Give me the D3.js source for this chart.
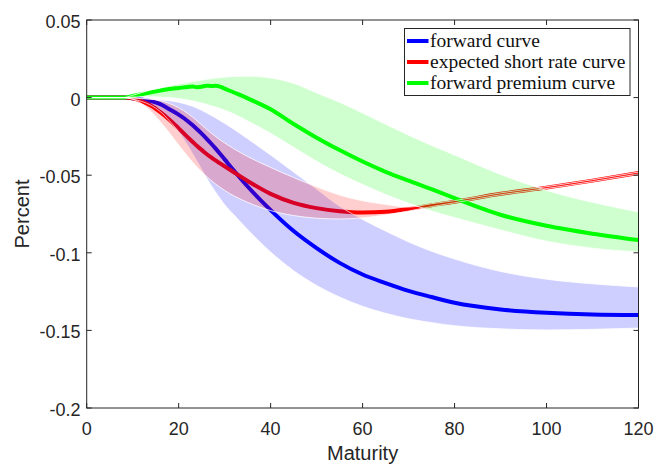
<!DOCTYPE html>
<html>

<head>
  <meta charset="utf-8">
  <title>Forward curve decomposition</title>
  <script src="https://cdn.jsdelivr.net/npm/d3@7"></script>
  <style>
    body { margin: 0; background: #fff; }
    svg { display: block; }
  </style>
</head>

<body>
  <div id="chart"></div>

  <script>
    // maturity grid (months)
    const maturity = [0, 4, 8, 10, 12, 14, 16, 18, 20, 22, 23, 24, 25, 26, 27, 28, 29, 30, 32, 35, 40, 45, 50, 55, 60, 65, 70, 75, 80, 90, 100, 110, 120];

    // forward curve + band
    const forward = [0, 0, 0, -0.0005, -0.0012, -0.0023, -0.0042, -0.0075, -0.0110, -0.0152, -0.0177, -0.0204, -0.0232, -0.0262, -0.0294, -0.0327, -0.0362, -0.0398, -0.0470, -0.0573, -0.0725, -0.0860, -0.0970, -0.1065, -0.1140, -0.1195, -0.1245, -0.1285, -0.1322, -0.1365, -0.1387, -0.1398, -0.1401];
    const forwardHi = [0, 0, 0, -0.0003, -0.0007, -0.0010, -0.0014, -0.0020, -0.0030, -0.0046, -0.0056, -0.0068, -0.0082, -0.0097, -0.0113, -0.0130, -0.0148, -0.0166, -0.0204, -0.0265, -0.0370, -0.0480, -0.0590, -0.0700, -0.0785, -0.0860, -0.0930, -0.0990, -0.1040, -0.1120, -0.1170, -0.1200, -0.1220];
    const forwardLo = [0, 0, 0, -0.0010, -0.0025, -0.0050, -0.0090, -0.0150, -0.0220, -0.0310, -0.0360, -0.0410, -0.0463, -0.0515, -0.0563, -0.0608, -0.0650, -0.0690, -0.0755, -0.0850, -0.0995, -0.1115, -0.1210, -0.1285, -0.1345, -0.1390, -0.1425, -0.1450, -0.1470, -0.1490, -0.1497, -0.1493, -0.1485];

    // expected short rate curve + band
    const shortRate = [0, 0, 0, -0.0005, -0.0025, -0.0052, -0.0093, -0.0142, -0.0198, -0.0256, -0.0284, -0.0312, -0.0337, -0.0362, -0.0384, -0.0405, -0.0424, -0.0443, -0.0481, -0.0537, -0.0620, -0.0678, -0.0712, -0.0732, -0.0740, -0.0736, -0.0718, -0.0693, -0.0671, -0.0620, -0.0580, -0.0535, -0.0486];
    const shortRateHi = [0, 0, 0, -0.0001, -0.0004, -0.0010, -0.0020, -0.0038, -0.0065, -0.0103, -0.0125, -0.0150, -0.0176, -0.0202, -0.0227, -0.0250, -0.0272, -0.0292, -0.0330, -0.0380, -0.0450, -0.0515, -0.0575, -0.0628, -0.0665, -0.0688, -0.0705, -0.0684, -0.0664, -0.0614, -0.0574, -0.0529, -0.0480];
    const shortRateLo = [0, 0, 0, -0.0010, -0.0040, -0.0090, -0.0155, -0.0228, -0.0305, -0.0380, -0.0415, -0.0448, -0.0478, -0.0506, -0.0532, -0.0556, -0.0578, -0.0598, -0.0633, -0.0675, -0.0728, -0.0760, -0.0777, -0.0782, -0.0775, -0.0757, -0.0731, -0.0702, -0.0678, -0.0626, -0.0586, -0.0541, -0.0492];

    // forward premium curve + band
    const premium = [0, 0, 0, 0.0010, 0.0022, 0.0034, 0.0045, 0.0055, 0.0062, 0.0069, 0.0072, 0.0067, 0.0070, 0.0077, 0.0075, 0.0076, 0.0071, 0.0058, 0.0033, -0.0005, -0.0075, -0.0170, -0.0258, -0.0338, -0.0412, -0.0478, -0.0535, -0.0590, -0.0648, -0.0755, -0.0826, -0.0877, -0.0918];
    const premiumHi = [0, 0, 0, 0.0015, 0.0033, 0.0050, 0.0064, 0.0077, 0.0088, 0.0098, 0.0103, 0.0108, 0.0113, 0.0118, 0.0122, 0.0126, 0.0129, 0.0132, 0.0136, 0.0138, 0.0127, 0.0092, 0.0030, -0.0030, -0.0100, -0.0172, -0.0242, -0.0308, -0.0370, -0.0495, -0.0598, -0.0675, -0.0737];
    const premiumLo = [0, 0, 0, 0.0003, 0.0005, 0.0005, 0.0003, 0, -0.0006, -0.0015, -0.0021, -0.0028, -0.0035, -0.0043, -0.0052, -0.0061, -0.0071, -0.0081, -0.0105, -0.0150, -0.0230, -0.0320, -0.0410, -0.0490, -0.0560, -0.0624, -0.0680, -0.0730, -0.0773, -0.0853, -0.0925, -0.0970, -0.0995];

    const xTicks = [0, 20, 40, 60, 80, 100, 120];
    const yTicks = [0.05, 0, -0.05, -0.1, -0.15, -0.2];
    const yTickLabels = ["0.05", "0", "-0.05", "-0.1", "-0.15", "-0.2"];
    const legendLabels = ["forward curve", "expected short rate curve", "forward premium curve"];
    const colors = ["#0000ff", "#ff0000", "#00ff00"];

    const W = 656, H = 464;
    const mLeft = 86.7, mRight = 638.5, mTop = 20, mBottom = 408;

    const svg = d3.select("#chart").append("svg")
      .attr("width", W)
      .attr("height", H);

    const x = d3.scaleLinear().domain([0, 120]).range([mLeft, mRight]);
    const y = d3.scaleLinear().domain([-0.2, 0.05]).range([mBottom, mTop]);

    svg.append("clipPath").attr("id", "clip")
      .append("rect")
      .attr("x", mLeft).attr("y", mTop)
      .attr("width", mRight - mLeft).attr("height", mBottom - mTop);

    const plot = svg.append("g").attr("clip-path", "url(#clip)");

    const series = [
      { mid: forward, hi: forwardHi, lo: forwardLo, color: colors[0] },
      { mid: shortRate, hi: shortRateHi, lo: shortRateLo, color: colors[1] },
      { mid: premium, hi: premiumHi, lo: premiumLo, color: colors[2] }
    ];

    const line = d3.line()
      .x(function (d, i) { return x(maturity[i]); })
      .y(function (d) { return y(d); })
      .curve(d3.curveMonotoneX);

    // lines first, then the shaded bands on top (as in the original)
    series.forEach(function (s) {
      plot.append("path")
        .attr("d", line(s.mid))
        .attr("fill", "none")
        .attr("stroke", s.color)
        .attr("stroke-width", 4);
    });

    series.forEach(function (s) {
      const idx = d3.range(maturity.length);
      const area = d3.area()
        .x(function (i) { return x(maturity[i]); })
        .y0(function (i) { return y(s.lo[i]); })
        .y1(function (i) { return y(s.hi[i]); })
        .curve(d3.curveMonotoneX);
      plot.append("path")
        .attr("d", area(idx))
        .attr("fill", s.color)
        .attr("fill-opacity", 0.19)
        .attr("stroke", "#ffffff")
        .attr("stroke-width", 0.8);
    });

    // axes box
    const axisColor = "#262626";
    svg.append("rect")
      .attr("x", mLeft).attr("y", mTop)
      .attr("width", mRight - mLeft).attr("height", mBottom - mTop)
      .attr("fill", "none")
      .attr("stroke", axisColor)
      .attr("stroke-width", 1);

    // ticks pointing inward on all four sides
    const tickLen = 5;
    const ticks = svg.append("g").attr("stroke", axisColor).attr("stroke-width", 1);
    xTicks.forEach(function (t) {
      ticks.append("line").attr("x1", x(t)).attr("x2", x(t)).attr("y1", mBottom).attr("y2", mBottom - tickLen);
      ticks.append("line").attr("x1", x(t)).attr("x2", x(t)).attr("y1", mTop).attr("y2", mTop + tickLen);
    });
    yTicks.forEach(function (t) {
      ticks.append("line").attr("x1", mLeft).attr("x2", mLeft + tickLen).attr("y1", y(t)).attr("y2", y(t));
      ticks.append("line").attr("x1", mRight).attr("x2", mRight - tickLen).attr("y1", y(t)).attr("y2", y(t));
    });

    // tick labels
    svg.append("g").selectAll("text")
      .data(xTicks)
      .enter()
      .append("text")
      .attr("x", function (d) { return x(d); })
      .attr("y", 435)
      .attr("text-anchor", "middle")
      .attr("font-family", "'Liberation Sans', Arial, sans-serif")
      .attr("font-size", "18px")
      .attr("fill", axisColor)
      .text(function (d) { return d; });

    svg.append("g").selectAll("text")
      .data(yTicks)
      .enter()
      .append("text")
      .attr("x", 80.5)
      .attr("y", function (d) { return y(d) + 8; })
      .attr("text-anchor", "end")
      .attr("font-family", "'Liberation Sans', Arial, sans-serif")
      .attr("font-size", "18px")
      .attr("fill", axisColor)
      .text(function (d, i) { return yTickLabels[i]; });

    // axis titles
    svg.append("text")
      .attr("x", (mLeft + mRight) / 2)
      .attr("y", 460)
      .attr("text-anchor", "middle")
      .attr("font-family", "'Liberation Sans', Arial, sans-serif")
      .attr("font-size", "20px")
      .attr("fill", axisColor)
      .text("Maturity");

    svg.append("text")
      .attr("transform", "translate(29," + ((mTop + mBottom) / 2) + ") rotate(-90)")
      .attr("text-anchor", "middle")
      .attr("font-family", "'Liberation Sans', Arial, sans-serif")
      .attr("font-size", "20px")
      .attr("fill", axisColor)
      .text("Percent");

    // legend
    const legend = svg.append("g");
    legend.append("rect")
      .attr("x", 404.5).attr("y", 28.5)
      .attr("width", 225.5).attr("height", 67)
      .attr("fill", "#fff")
      .attr("stroke", axisColor)
      .attr("stroke-width", 1);

    legendLabels.forEach(function (label, i) {
      const ly = 41 + i * 21;
      legend.append("line")
        .attr("x1", 407).attr("x2", 428.5)
        .attr("y1", ly).attr("y2", ly)
        .attr("stroke", colors[i])
        .attr("stroke-width", 4);
      legend.append("text")
        .attr("x", 430)
        .attr("y", ly + 5.5)
        .attr("font-family", "'Liberation Serif', 'Times New Roman', serif")
        .attr("font-size", "19.5px")
        .attr("fill", "#111")
        .text(label);
    });
  </script>
</body>

</html>
